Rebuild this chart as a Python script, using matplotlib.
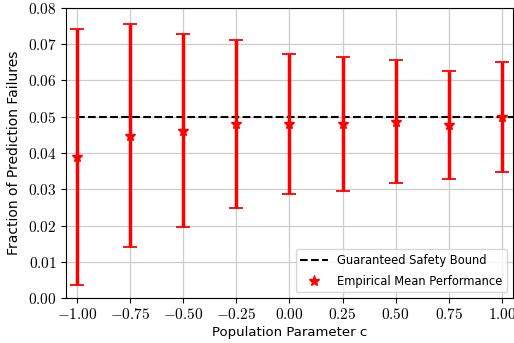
import matplotlib
matplotlib.use("Agg")
import matplotlib.pyplot as plt
import numpy as np
from matplotlib.ticker import FuncFormatter

c_values = [-1.0, -0.75, -0.5, -0.25, 0.0, 0.25, 0.5, 0.75, 1.0]
mean_failures = [0.0389, 0.0448, 0.0461, 0.0480, 0.0480, 0.0480, 0.0486, 0.0477, 0.0500]
err_failures = [0.0353, 0.0308, 0.0266, 0.0232, 0.0194, 0.0185, 0.0169, 0.0148, 0.0152]
safety_bound = 0.05
x_ticks = [-1.0, -0.75, -0.5, -0.25, 0.0, 0.25, 0.5, 0.75, 1.0]
y_ticks = [0.0, 0.01, 0.02, 0.03, 0.04, 0.05, 0.06, 0.07, 0.08]

plt.rcParams['mathtext.fontset'] = 'cm'

fig = plt.figure(figsize=(5.14, 3.43), dpi=100)
ax = fig.add_axes([0.128, 0.131, 0.870, 0.846])
ax.set_xlim(-1.052, 1.052)
ax.set_ylim(0.0, 0.08)

ax.grid(True, color='#cccccc', linewidth=0.9, zorder=0)
ax.set_axisbelow(True)

ax.hlines(safety_bound, c_values[0], 1.052, colors='black', linestyles='--',
          linewidth=1.5, zorder=2, label='Guaranteed Safety Bound')
ax.errorbar(c_values, mean_failures, yerr=err_failures, fmt='none', ecolor='red',
            elinewidth=2.5, capsize=5, capthick=1.3, zorder=3)
ax.plot(c_values, mean_failures, linestyle='none', marker='*', markersize=8,
        color='red', zorder=4, label='Empirical Mean Performance')

ax.set_xticks(x_ticks)
ax.set_yticks(y_ticks)
ax.xaxis.set_major_formatter(FuncFormatter(lambda v, p: r'$%.2f$' % v))
ax.yaxis.set_major_formatter(FuncFormatter(lambda v, p: r'$%.2f$' % v))
ax.tick_params(axis='both', labelsize=11, length=3.5, pad=3)

ax.set_xlabel('Population Parameter c', fontsize=9.5, labelpad=3)
ax.set_ylabel('Fraction of Prediction Failures', fontsize=10, labelpad=5)

leg = ax.legend(loc='lower right', fontsize=8.3, framealpha=0.8,
                handlelength=2.4, labelspacing=0.7, borderaxespad=0.5)

fig.savefig('out.png', dpi=100)
